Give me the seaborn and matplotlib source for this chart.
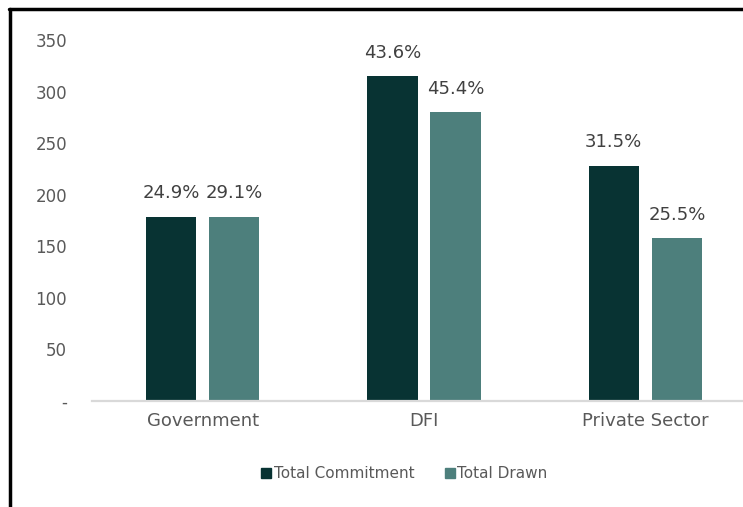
import matplotlib
matplotlib.use("Agg")
import matplotlib.pyplot as plt
import seaborn as sns
import pandas as pd
from matplotlib.lines import Line2D

categories = ["Government", "DFI", "Private Sector"]
series = ["Total Commitment", "Total Drawn"]
commitment = [179, 315, 228]
drawn = [179, 280, 158]
commitment_pct = ["24.9%", "43.6%", "31.5%"]
drawn_pct = ["29.1%", "45.4%", "25.5%"]
yticks = [0, 50, 100, 150, 200, 250, 300, 350]
ytick_labels = ["-", "50", "100", "150", "200", "250", "300", "350"]

colors = ["#083333", "#4d7f7c"]

df = pd.DataFrame({
    "category": categories * 2,
    "series": [series[0]] * 3 + [series[1]] * 3,
    "value": commitment + drawn,
})

sns.set_theme(style="white")
plt.rcParams['font.family'] = ['DejaVu Sans']

fig = plt.figure(figsize=(7.43, 5.07), dpi=100)
W, H = 743, 507
ax = fig.add_axes([92 / W, 1 - 401 / H, (756 - 92) / W, (401 - 30) / H])

sns.barplot(data=df, x="category", y="value", hue="series", palette=colors,
            width=0.57, gap=0.2, ax=ax, legend=False, saturation=1, linewidth=0)

ax.set_xlim(-0.5, 2.5)
ax.set_ylim(0, 360)
ax.set_yticks(yticks)
ax.set_yticklabels(ytick_labels)
ax.set_xlabel("")
ax.set_ylabel("")
for s in ["top", "right", "left"]:
    ax.spines[s].set_visible(False)
ax.spines["bottom"].set_color("#d9d9d9")
ax.spines["bottom"].set_linewidth(1.6)
ax.tick_params(axis="y", length=0, pad=18, labelsize=12, labelcolor="#595959")
ax.tick_params(axis="x", length=0, pad=8, labelsize=13, labelcolor="#595959")

labels_all = [commitment_pct, drawn_pct]
for cont, labs in zip(ax.containers, labels_all):
    ax.bar_label(cont, labels=labs, padding=10.5, fontsize=13, color="#404040")

handles = [Line2D([0], [0], marker="s", linestyle="", markersize=7.5,
                  markerfacecolor=c, markeredgecolor=c) for c in colors]
fig.legend(handles, series, loc="center", bbox_to_anchor=(403 / W, 1 - 474 / H),
           ncol=2, frameon=False, fontsize=11, labelcolor="#595959",
           handletextpad=0.0, columnspacing=1.8, handlelength=1.0)

# outer frame lines (left and top)
fig.add_artist(Line2D([9.5 / W, 9.5 / W], [0, 1 - 8.5 / H], transform=fig.transFigure,
                      color="black", linewidth=2.5))
fig.add_artist(Line2D([8.5 / W, 1], [1 - 8.5 / H, 1 - 8.5 / H], transform=fig.transFigure,
                      color="black", linewidth=2.5))

fig.savefig("out.png", dpi=100)
